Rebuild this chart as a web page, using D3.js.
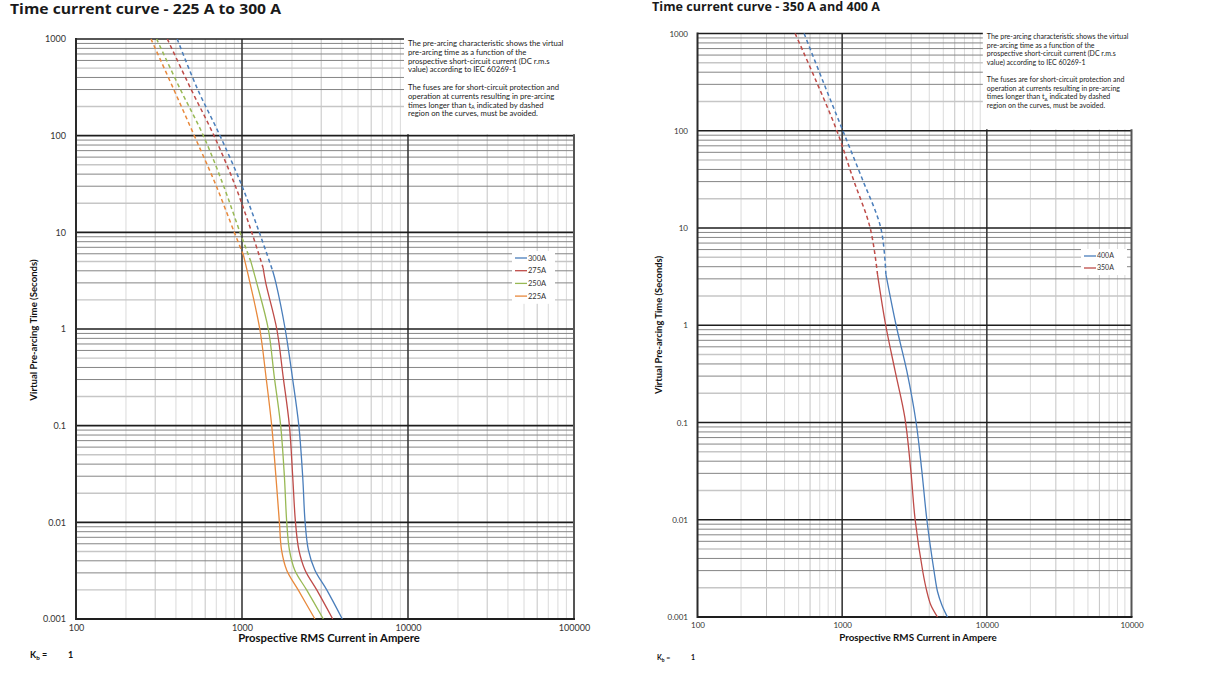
<!DOCTYPE html>
<html>
  <head>
    <meta charset="utf-8" />
    <script src="https://cdn.jsdelivr.net/npm/d3@7"></script>
    <style>
      body { margin: 0px; background: #fff; }
      text { font-family: Lato, "Liberation Sans", sans-serif; }
      .title { font-family: "Open Sans", sans-serif; font-weight: bold; fill: #1a1a1a; }
      .tick-label { fill: #333; }
      .axis-title { font-weight: bold; fill: #111; }
      .note { fill: #222; }
    </style>
  </head>
  <body>
    <svg width="1206" height="691"></svg>
    <script>
      // ---- data: [current (A), time (s)] ----
      const yTickValues = [1000, 100, 10, 1, 0.1, 0.01, 0.001];
      const yTickLabels = ["1000", "100", "10", "1", "0.1", "0.01", "0.001"];
      const xTickValues = [100, 1000, 10000, 100000];
      const leftXTickLabels = ["100", "1000", "10000", "100000"];
      const rightXTickLabels = ["100", "1000", "10000", "10000"];

      const leftFuses = ["300A", "275A", "250A", "225A"];
      const rightFuses = ["400A", "350A"];

      const c300Dashed = [[407, 1000], [538, 307], [737, 100], [996, 30.7], [1271, 10], [1530, 4.0]];
      const c300Solid = [[1530, 4.0], [1600, 3], [1820, 1], [2010, 0.32], [2200, 0.1], [2320, 0.03], [2400, 0.01], [2510, 0.0052], [2750, 0.0032], [3240, 0.002], [4020, 0.001]];
      const c275Dashed = [[355, 1000], [491, 307], [678, 100], [908, 30.7], [1144, 10], [1340, 4.3]];
      const c275Solid = [[1340, 4.3], [1390, 3], [1620, 1], [1770, 0.32], [1930, 0.1], [2020, 0.03], [2100, 0.01], [2200, 0.0052], [2400, 0.0032], [2820, 0.002], [3520, 0.001]];
      const c250Dashed = [[306, 1000], [423, 307], [585, 100], [772, 30.7], [973, 10], [1130, 5]];
      const c250Solid = [[1130, 5], [1226, 3], [1440, 1], [1565, 0.32], [1710, 0.1], [1800, 0.03], [1860, 0.01], [1930, 0.0052], [2080, 0.0032], [2450, 0.002], [3090, 0.001]];
      const c225Dashed = [[283, 1000], [386, 307], [516, 100], [697, 30.7], [899, 10], [1020, 5.8]];
      const c225Solid = [[1020, 5.8], [1117, 3], [1280, 1], [1395, 0.32], [1510, 0.1], [1600, 0.03], [1680, 0.01], [1730, 0.0052], [1860, 0.0032], [2180, 0.002], [2750, 0.001]];

      const c400Dashed = [[546, 1000], [736, 324], [1011, 100], [1369, 32.6], [1850, 10], [2005, 3.36]];
      const c400Solid = [[2005, 3.36], [2360, 1], [2800, 0.337], [3245, 0.1], [3555, 0.0316], [3850, 0.01], [4323, 0.00292], [4560, 0.00183], [4887, 0.00133], [5342, 0.001]];
      const c350Dashed = [[473, 1000], [661, 324], [919, 100], [1186, 32.6], [1562, 10], [1754, 3.36]];
      const c350Solid = [[1754, 3.36], [2000, 1], [2324, 0.337], [2713, 0.112], [2985, 0.0316], [3195, 0.01], [3610, 0.00292], [3850, 0.00183], [4100, 0.00133], [4560, 0.001]];

      const noteLines = [
        "The pre-arcing characteristic shows the virtual",
        "pre-arcing time as a function of the",
        "prospective short-circuit current (DC r.m.s",
        "value) according to IEC 60269-1",
        "",
        "The fuses are for short-circuit protection and",
        "operation at currents resulting in pre-arcing",
        "times longer than t|A| indicated by dashed",
        "region on the curves, must be avoided."
      ];

      const fuseColor = {
        "300A": "#4a7ebb", "275A": "#be4b48", "250A": "#98b954", "225A": "#e8893c",
        "400A": "#4a7ebb", "350A": "#be4b48"
      };

      const svg = d3.select("svg");

      function drawChart(cfg) {
        const g = svg.append("g");
        const x = d3.scaleLog().domain([100, 100000]).range([cfg.x0, cfg.x1]);
        const y = d3.scaleLog().domain([0.001, 1000]).range([cfg.y1, cfg.y0]);

        // minor grid
        const decades = [100, 1000, 10000];
        decades.forEach(d => {
          d3.range(2, 10).forEach(k => {
            g.append("line")
              .attr("x1", x(d * k)).attr("x2", x(d * k))
              .attr("y1", cfg.y0).attr("y2", cfg.y1)
              .attr("stroke", (k === 3 || k === 6) ? "#c4c4c4" : "#dadada")
              .attr("stroke-width", 1);
          });
        });
        [0.001, 0.01, 0.1, 1, 10, 100].forEach(d => {
          d3.range(2, 10).forEach(k => {
            g.append("line")
              .attr("x1", cfg.x0).attr("x2", cfg.x1)
              .attr("y1", y(d * k)).attr("y2", y(d * k))
              .attr("stroke", (k === 2 || k === 5) ? "#c6c6c6" : "#858585")
              .attr("stroke-width", (k === 2 || k === 5) ? 1.4 : 1);
          });
        });
        // major grid
        [1000, 10000].forEach(v => {
          g.append("line")
            .attr("x1", x(v)).attr("x2", x(v))
            .attr("y1", cfg.y0).attr("y2", cfg.y1)
            .attr("stroke", "#3a3a3a").attr("stroke-width", 1.6);
        });
        [1000, 100, 10, 1, 0.1, 0.01].forEach(v => {
          g.append("line")
            .attr("x1", cfg.x0).attr("x2", cfg.x1)
            .attr("y1", y(v)).attr("y2", y(v))
            .attr("stroke", "#1e1e1e").attr("stroke-width", 1.6);
        });
        g.append("line")
          .attr("x1", cfg.x1).attr("x2", cfg.x1)
          .attr("y1", cfg.y0).attr("y2", cfg.y1)
          .attr("stroke", "#555").attr("stroke-width", 2);
        g.append("line")
          .attr("x1", cfg.x0).attr("x2", cfg.x0)
          .attr("y1", cfg.y0 - 1).attr("y2", cfg.y1 + 1)
          .attr("stroke", "#2a2a2a").attr("stroke-width", 2);
        g.append("line")
          .attr("x1", cfg.x0).attr("x2", cfg.x1 + 1)
          .attr("y1", cfg.y1).attr("y2", cfg.y1)
          .attr("stroke", "#1e1e1e").attr("stroke-width", 2);

        // note area covers the upper right of the top decade
        const noteX = x(10000) - 4;
        g.append("rect")
          .attr("x", noteX).attr("y", cfg.y0 - 6)
          .attr("width", cfg.x1 - noteX + 12)
          .attr("height", y(100) - 1.5 - (cfg.y0 - 6))
          .attr("fill", "#fff");
        const note = g.append("text").attr("class", "note")
          .style("font-size", cfg.noteSize + "px");
        noteLines.forEach((line, i) => {
          const t = note.append("tspan")
            .attr("x", noteX + 4)
            .attr("y", cfg.noteY + i * cfg.noteStep);
          if (line.includes("|A|")) {
            const parts = line.split("|A|");
            t.text(parts[0]);
            note.append("tspan").attr("dy", 1.5).style("font-size", (cfg.noteSize * 0.65) + "px").text("A");
            note.append("tspan").attr("dy", -1.5).text(parts[1]);
          } else {
            t.text(line);
          }
        });

        // curves
        const line = d3.line()
          .x(d => x(d[0]))
          .y(d => y(d[1]))
          .curve(d3.curveCatmullRom.alpha(0.5));
        cfg.curves.forEach(c => {
          g.append("path")
            .attr("d", line(c.dashed))
            .attr("fill", "none")
            .attr("stroke", fuseColor[c.name])
            .attr("stroke-width", 1.5)
            .attr("stroke-dasharray", "4,3");
          g.append("path")
            .attr("d", line(c.solid))
            .attr("fill", "none")
            .attr("stroke", fuseColor[c.name])
            .attr("stroke-width", 1.3);
        });

        // legend
        const lg = g.append("g");
        lg.append("rect")
          .attr("x", cfg.legendX).attr("y", cfg.legendY - 7)
          .attr("width", cfg.legendW).attr("height", cfg.legendStep * cfg.fuses.length + 2)
          .attr("fill", "#fff");
        cfg.fuses.forEach((f, i) => {
          const yy = cfg.legendY + i * cfg.legendStep;
          lg.append("line")
            .attr("x1", cfg.legendX + 3).attr("x2", cfg.legendX + 15)
            .attr("y1", yy).attr("y2", yy)
            .attr("stroke", fuseColor[f]).attr("stroke-width", 1.3);
          lg.append("text")
            .attr("x", cfg.legendX + 16).attr("y", yy)
            .attr("dy", "0.35em")
            .style("font-size", cfg.legendSize + "px")
            .attr("fill", "#333")
            .text(f);
        });

        // axes (labels only)
        const yAxis = d3.axisLeft(y)
          .tickValues(yTickValues)
          .tickFormat((d, i) => yTickLabels[i])
          .tickSize(0).tickPadding(0);
        const yAxisG = g.append("g")
          .attr("transform", `translate(${cfg.yLabelX},0)`)
          .call(yAxis);
        yAxisG.select(".domain").remove();
        yAxisG.selectAll("text").attr("class", "tick-label")
          .style("font-size", cfg.tickSize + "px").attr("fill", "#333");

        const xAxis = d3.axisBottom(x)
          .tickValues(xTickValues)
          .tickFormat((d, i) => cfg.xLabels[i])
          .tickSize(0).tickPadding(0);
        const xAxisG = g.append("g")
          .attr("transform", `translate(0,${cfg.xLabelY})`)
          .call(xAxis);
        xAxisG.select(".domain").remove();
        xAxisG.selectAll("text").attr("class", "tick-label")
          .style("font-size", cfg.tickSize + "px").attr("fill", "#333");

        g.append("text").attr("class", "axis-title")
          .attr("x", cfg.xTitleX).attr("y", cfg.xTitleY)
          .attr("text-anchor", "middle")
          .style("font-size", cfg.xTitleSize + "px")
          .text("Prospective RMS Current in Ampere");

        g.append("text").attr("class", "axis-title")
          .attr("transform", `translate(${cfg.yTitleX},${cfg.yTitleY}) rotate(-90)`)
          .attr("text-anchor", "middle")
          .style("font-size", cfg.yTitleSize + "px")
          .text("Virtual Pre-arcing Time (Seconds)");

        g.append("text").attr("class", "title")
          .attr("x", cfg.titleX).attr("y", cfg.titleY)
          .style("font-size", cfg.titleSize + "px")
          .attr("textLength", cfg.titleLen)
          .attr("lengthAdjust", "spacingAndGlyphs")
          .text(cfg.title);

        // K_b = 1
        const kb = g.append("text").attr("class", "axis-title")
          .attr("x", cfg.kbX).attr("y", cfg.kbY)
          .style("font-size", cfg.kbSize + "px");
        kb.append("tspan").text("K");
        kb.append("tspan").attr("dy", 2).style("font-size", (cfg.kbSize * 0.7) + "px").text("b");
        kb.append("tspan").attr("dy", -2).text(" =");
        g.append("text").attr("class", "axis-title")
          .attr("x", cfg.kbX + cfg.kbGap).attr("y", cfg.kbY)
          .style("font-size", cfg.kbSize + "px")
          .text("1");
      }

      drawChart({
        title: "Time current curve - 225 A to 300 A",
        titleX: 10, titleY: 14, titleSize: 13.5, titleLen: 271,
        x0: 76, x1: 574, y0: 39, y1: 619,
        xLabels: leftXTickLabels,
        yLabelX: 66, xLabelY: 625, tickSize: 9,
        xTitleX: 329, xTitleY: 642, xTitleSize: 11.3,
        yTitleX: 37, yTitleY: 330, yTitleSize: 9.6,
        noteY: 46, noteStep: 8.8, noteSize: 7.7,
        fuses: leftFuses,
        curves: [
          { name: "300A", dashed: c300Dashed, solid: c300Solid },
          { name: "275A", dashed: c275Dashed, solid: c275Solid },
          { name: "250A", dashed: c250Dashed, solid: c250Solid },
          { name: "225A", dashed: c225Dashed, solid: c225Solid }
        ],
        legendX: 512, legendY: 258, legendStep: 12.7, legendW: 43, legendSize: 7.5,
        kbX: 30, kbY: 658, kbSize: 9, kbGap: 38
      });

      drawChart({
        title: "Time current curve - 350 A and 400 A",
        titleX: 652, titleY: 11, titleSize: 11.5, titleLen: 228,
        x0: 697.5, x1: 1131.5, y0: 33.5, y1: 617,
        xLabels: rightXTickLabels,
        yLabelX: 688, xLabelY: 622, tickSize: 8,
        xTitleX: 918, xTitleY: 641, xTitleSize: 9.8,
        yTitleX: 662, yTitleY: 325, yTitleSize: 9.4,
        noteY: 39, noteStep: 8.6, noteSize: 7,
        fuses: rightFuses,
        curves: [
          { name: "400A", dashed: c400Dashed, solid: c400Solid },
          { name: "350A", dashed: c350Dashed, solid: c350Solid }
        ],
        legendX: 1081, legendY: 256, legendStep: 12, legendW: 46, legendSize: 7,
        kbX: 657, kbY: 660, kbSize: 7, kbGap: 34
      });
    </script>
  </body>
</html>
